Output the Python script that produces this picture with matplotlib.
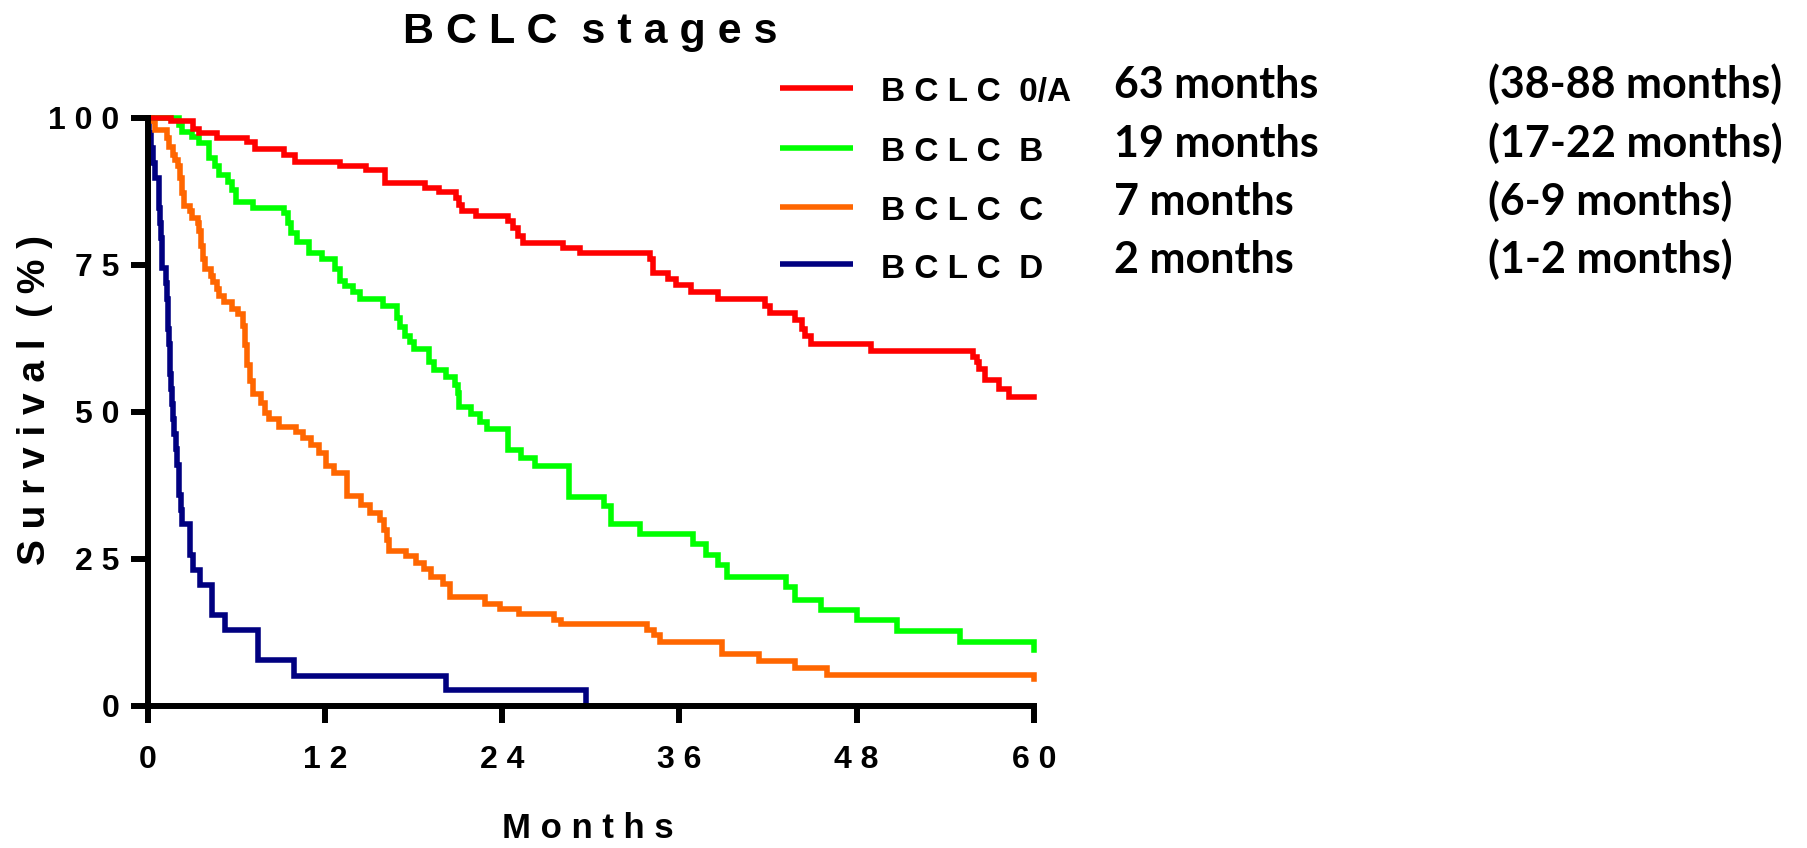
import matplotlib
matplotlib.use('Agg')
import matplotlib.pyplot as plt
from matplotlib.lines import Line2D

# ---------------- data ----------------
stages = ['BCLC 0/A', 'BCLC B', 'BCLC C', 'BCLC D']
legend_labels = ['B C L C  0/A', 'B C L C  B', 'B C L C  C', 'B C L C  D']
colors = ['#FF0000', '#00FF00', '#FF6600', '#000080']
median_text = ['63 months', '19 months', '7 months', '2 months']
ci_text = ['(38-88 months)', '(17-22 months)', '(6-9 months)', '(1-2 months)']

x_ticks = [0, 12, 24, 36, 48, 60]
x_ticklabels = ['0', '1 2', '2 4', '3 6', '4 8', '6 0']
y_ticks = [0, 25, 50, 75, 100]
y_ticklabels = ['0', '2 5', '5 0', '7 5', '1 0 0']

time_a = [0, 1.6, 3.1, 3.5, 4.7, 6.75, 7.3, 9.2, 10.0, 13.0, 14.8, 16.1, 18.8, 19.7,
          20.9, 21.1, 21.3, 22.2, 24.4, 24.7, 25.1, 25.4, 28.1, 29.3, 34.0, 34.2,
          35.2, 35.8, 36.8, 38.6, 41.8, 42.1, 43.8, 44.3, 44.5, 44.9, 49.0, 55.9,
          56.15, 56.3, 56.7, 57.6, 58.3, 60]
surv_a = [100, 99.5, 98, 97.3, 96.6, 95.9, 94.6, 93.6, 92.5, 91.8, 91.1, 88.9, 88.0, 87.3,
          86.3, 85.2, 84.1, 83.2, 82.4, 81.3, 79.8, 78.7, 77.8, 76.9, 75.9, 73.5,
          72.5, 71.5, 70.4, 69.2, 68.0, 66.7, 65.5, 64.1, 62.9, 61.5, 60.3, 59.3,
          58.4, 57.2, 55.4, 53.9, 52.5, 52.5]

time_b = [0, 2.1, 2.35, 3.0, 3.5, 4.15, 4.55, 4.8, 5.45, 5.7, 6.0, 7.15, 9.2, 9.5, 9.7,
          10.1, 10.9, 11.8, 12.7, 13.0, 13.35, 13.9, 14.4, 15.95, 16.85, 17.1, 17.4,
          17.75, 18.0, 19.05, 19.4, 20.2, 20.8, 21.0, 21.1, 21.9, 22.5, 23.0, 24.4,
          25.3, 26.2, 28.5, 30.9, 31.4, 33.3, 36.9, 37.8, 38.6, 39.2, 43.2, 43.8,
          45.6, 48.0, 50.7, 55.0, 60.0]
surv_b = [100, 98.7, 97.6, 96.7, 95.6, 93.1, 91.7, 90.3, 89.1, 87.7, 85.6, 84.6, 83.8,
          82.1, 80.4, 78.8, 77.0, 75.9, 74.2, 72.2, 71.3, 70.3, 69.1, 68.0, 66.0, 64.4,
          62.9, 61.8, 60.6, 58.5, 57.1, 55.9, 54.5, 53.2, 50.8, 49.6, 48.2, 47.0, 43.5,
          42.1, 40.8, 35.5, 34.0, 30.8, 29.1, 27.4, 25.6, 23.9, 21.8, 20.1, 18.0, 16.3,
          14.6, 12.7, 10.9, 9.4]

time_c = [0, 0.27, 0.53, 1.31, 1.44, 1.7, 1.83, 2.09, 2.22, 2.35, 2.47, 2.86, 2.99, 3.38,
          3.51, 3.64, 3.77, 3.9, 4.29, 4.42, 4.68, 4.8, 5.19, 5.71, 6.1, 6.49, 6.62,
          6.75, 6.9, 7.15, 7.7, 7.96, 8.22, 8.9, 10.03, 10.54, 11.06, 11.58, 12.09,
          12.61, 13.51, 14.42, 15.06, 15.71, 15.97, 16.23, 16.36, 17.52, 18.17, 18.68,
          19.2, 19.97, 20.49, 22.82, 23.85, 25.14, 27.5, 28.0, 33.8, 34.3, 34.7, 38.9,
          41.4, 43.8, 46.0, 60.0]
surv_c = [100, 99.5, 97.9, 96.5, 95.0, 93.6, 92.8, 91.7, 89.7, 87.2, 84.9, 84.1, 82.9,
          82.1, 80.7, 78.2, 75.9, 74.2, 73.1, 72.0, 70.8, 69.7, 68.6, 67.5, 66.6, 64.6,
          61.3, 57.9, 55.2, 53.0, 51.5, 49.8, 48.7, 47.3, 46.6, 45.5, 44.4, 42.9, 40.7,
          39.5, 35.6, 34.2, 32.8, 31.6, 29.9, 28.2, 26.3, 25.4, 24.3, 23.2, 21.8, 20.6,
          18.4, 17.2, 16.4, 15.5, 14.6, 13.8, 12.9, 12.0, 10.8, 8.7, 7.6, 6.4, 5.2, 4.5]

time_d = [0, 0.1, 0.2, 0.35, 0.5, 0.75, 0.8, 0.85, 0.9, 0.95, 1.0, 1.25, 1.3, 1.35, 1.4,
          1.45, 1.5, 1.55, 1.6, 1.65, 1.75, 1.8, 1.9, 2.0, 2.1, 2.15, 2.25, 2.3, 2.9,
          3.05, 3.55, 4.35, 5.25, 7.45, 9.9, 20.2, 29.7]
surv_d = [100, 97.4, 94.9, 92.3, 89.7, 87.2, 84.6, 82.1, 79.5, 76.9, 74.4, 71.8, 69.2,
          66.7, 64.1, 61.5, 59.0, 56.4, 53.8, 51.3, 48.7, 46.2, 43.6, 41.0, 38.5, 35.9,
          33.3, 30.8, 25.6, 23.1, 20.5, 15.4, 12.8, 7.7, 5.1, 2.6, 0]

times = [time_a, time_b, time_c, time_d]
survs = [surv_a, surv_b, surv_c, surv_d]

# ---------------- figure ----------------
W, H = 1808, 848
fig = plt.figure(figsize=(W / 100, H / 100), dpi=100)
FONT = 'Liberation Sans'

def fx(px):
    return px / W

def fy(py):
    return 1 - py / H

ax = fig.add_axes([fx(147.6), fy(705.6), (1034 - 147.6) / W, (705.6 - 117.6) / H])

LW = 4.0
for i in [3, 2, 1, 0]:
    ax.step(times[i], survs[i], where='post', color=colors[i], lw=LW,
            clip_on=False, solid_joinstyle='miter', zorder=3 + (3 - i))

ax.set_xlim(0, 60)
ax.set_ylim(0, 100)
for s in ['top', 'right']:
    ax.spines[s].set_visible(False)
for s in ['left', 'bottom']:
    ax.spines[s].set_linewidth(4.3)
    ax.spines[s].set_capstyle('projecting')
    ax.spines[s].set_zorder(10)

ax.set_xticks(x_ticks)
ax.set_xticklabels(x_ticklabels)
ax.set_yticks(y_ticks)
ax.set_yticklabels(y_ticklabels)
ax.tick_params(axis='both', direction='out', length=12.5, width=4.3, labelsize=23)
ax.tick_params(axis='x', pad=16)
ax.tick_params(axis='y', pad=8)
for lab in ax.get_xticklabels() + ax.get_yticklabels():
    lab.set_fontfamily(FONT)
    lab.set_fontweight('bold')

fig.text(fx(588), fy(828), 'M o n t h s', ha='center', va='center',
         fontsize=25, fontweight='bold', fontfamily=FONT)
fig.text(fx(35), fy(400), 'S u r v i v a l  ( % )', rotation=90, ha='center', va='center',
         fontsize=28, fontweight='bold', fontfamily=FONT)
fig.text(fx(590), fy(43), 'B C L C  s t a g e s', ha='center', va='baseline',
         fontsize=31, fontweight='bold', fontfamily=FONT)

# legend + medians
leg_y = [88, 148, 207, 264]
lab_base = [101, 161, 220, 278]
txt_base = [98, 157, 215, 273]
for i in range(4):
    fig.add_artist(Line2D([fx(780), fx(853)], [fy(leg_y[i]), fy(leg_y[i])],
                          color=colors[i], lw=LW, solid_capstyle='butt'))
    fig.text(fx(881), fy(lab_base[i]), legend_labels[i], ha='left', va='baseline',
             fontsize=24, fontweight='bold', fontfamily=FONT)
    fig.text(fx(1114), fy(txt_base[i]), median_text[i], ha='left', va='baseline',
             fontsize=31, fontweight='bold', fontfamily='Lato')
    fig.text(fx(1488), fy(txt_base[i]), ci_text[i], ha='left', va='baseline',
             fontsize=31, fontweight='bold', fontfamily='Lato')

fig.savefig('out.png', dpi=100)
